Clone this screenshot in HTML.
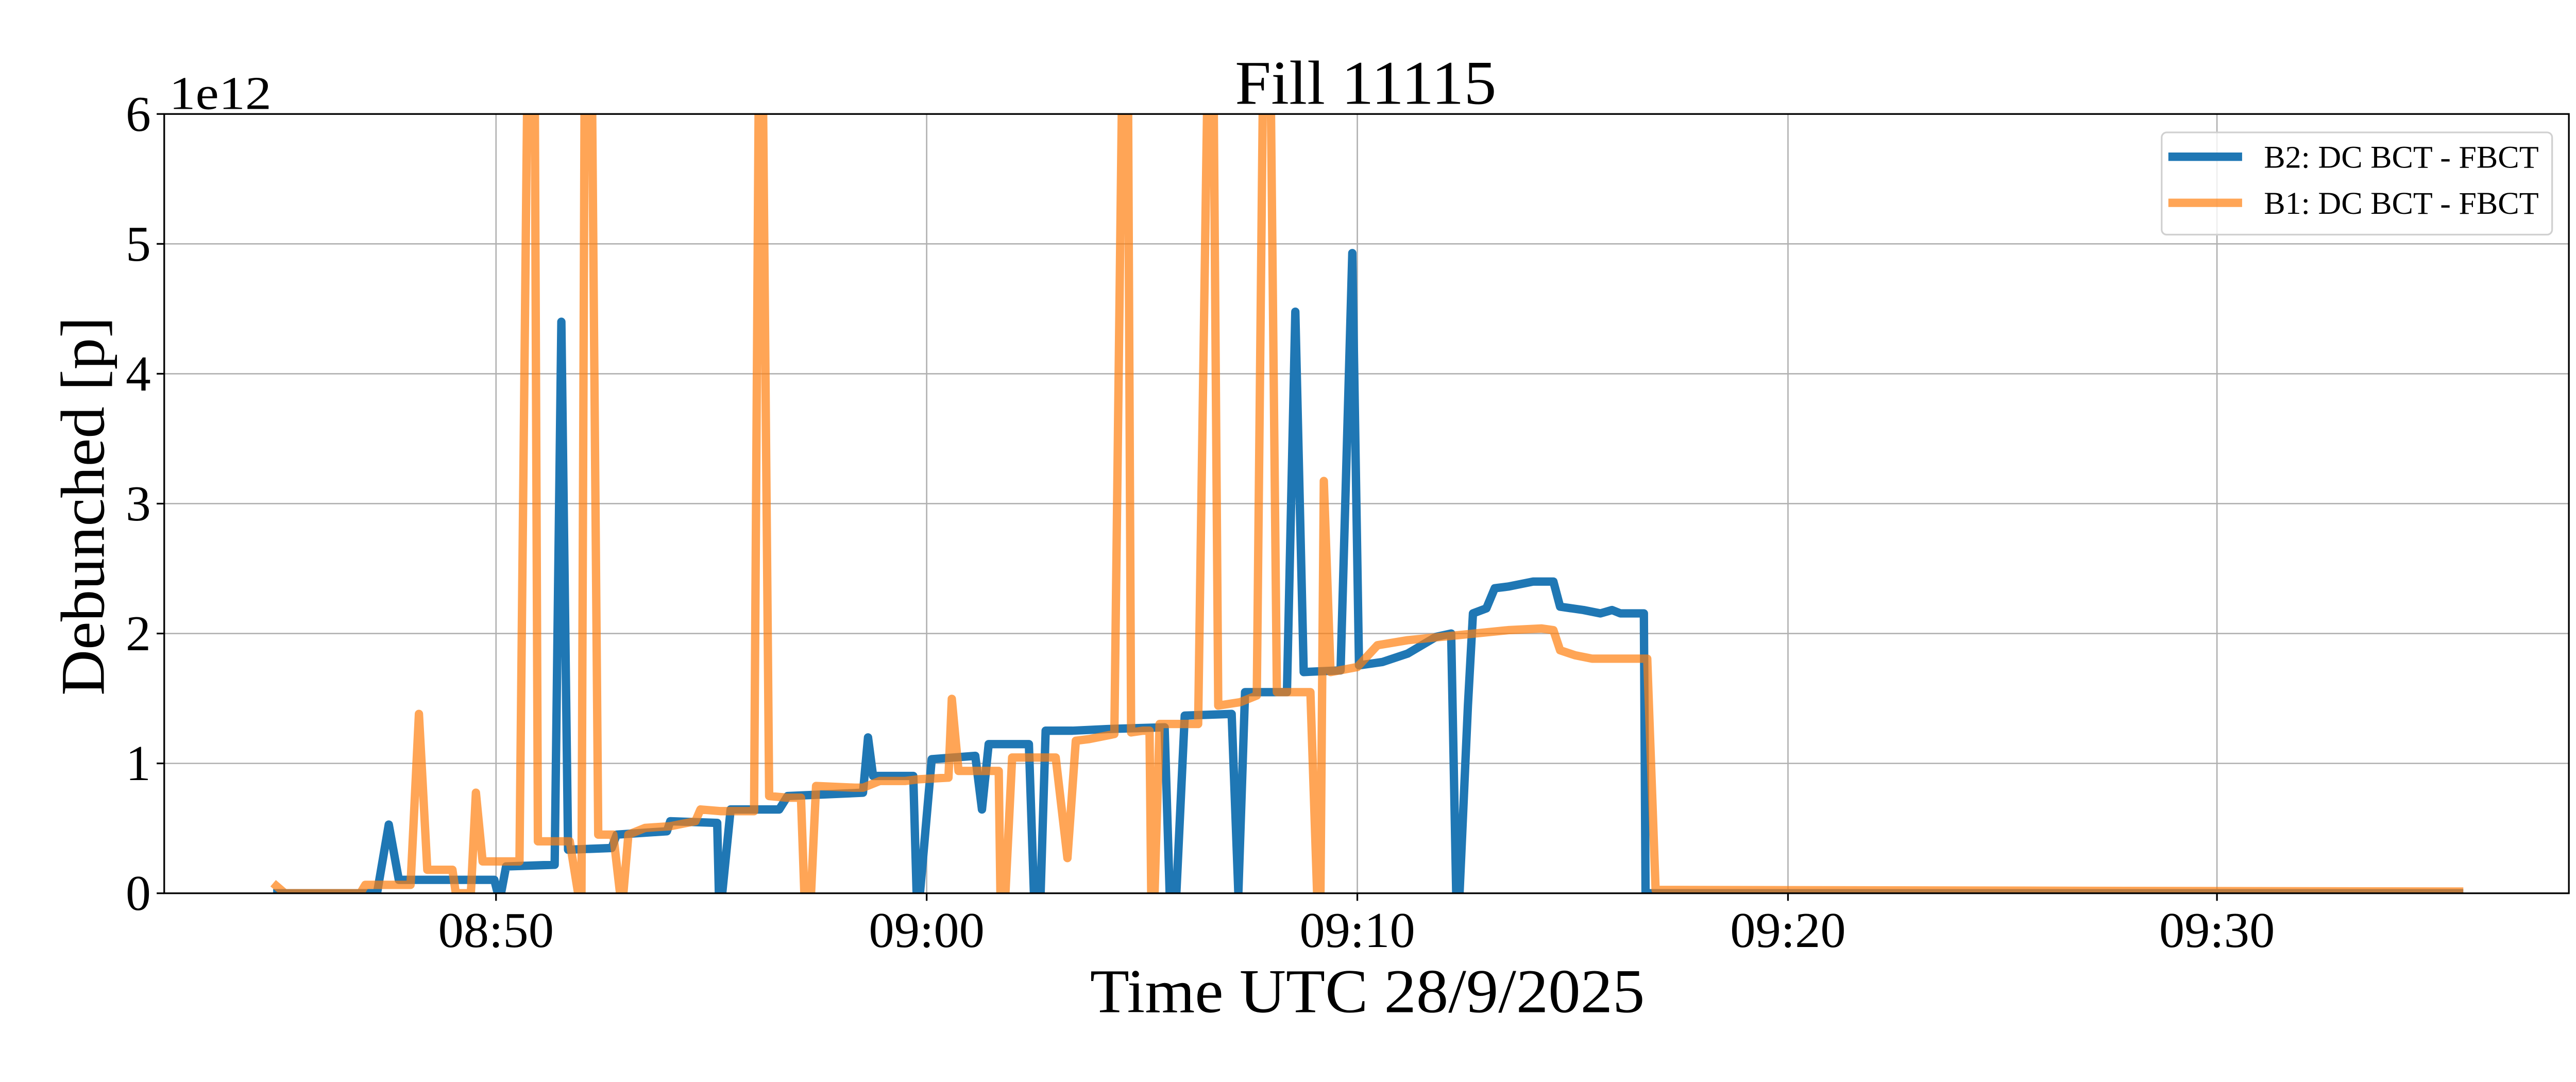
<!DOCTYPE html>
<html><head><meta charset="utf-8"><style>html,body{margin:0;padding:0;background:#fff}svg{display:block}</style></head>
<body>
<svg width="5100" height="2100" viewBox="0 0 1568 645.6" xmlns="http://www.w3.org/2000/svg" font-family="'Liberation Serif', serif">
<defs><clipPath id="c"><rect x="98" y="68" width="1435" height="465"/></clipPath></defs>
<rect width="1568" height="645.6" fill="#fff"/>
<g stroke="#b0b0b0" stroke-width="0.8">
<line x1="296" y1="68" x2="296" y2="533"/><line x1="553" y1="68" x2="553" y2="533"/><line x1="810" y1="68" x2="810" y2="533"/><line x1="1067" y1="68" x2="1067" y2="533"/><line x1="1323" y1="68" x2="1323" y2="533"/>
<line x1="98" y1="455.5" x2="1533" y2="455.5"/><line x1="98" y1="378" x2="1533" y2="378"/><line x1="98" y1="300.5" x2="1533" y2="300.5"/><line x1="98" y1="223" x2="1533" y2="223"/><line x1="98" y1="145.5" x2="1533" y2="145.5"/>
</g>
<g clip-path="url(#c)" fill="none" stroke-linejoin="round" stroke-width="5">
<polyline stroke="#1f77b4" points="163,533 225,533 232,492 238,525 295,525 297,533 299,533 302,517 331,516 335,192 339,507 365,506 368,498 398,496 400,490 428,491 429,533 431,533 436,483 465,483 470,475 515,473 518,440 521,463 545,463 547,533 549,533 556,453 582,451 586,483 590,444 614,444 617,533 621,533 624,436 640,436 661,435 695,434 698,533 702,533 707,427 735,426 739,533 743,413 768,413 773,186 778,401 800,400 807,151 811,397 825,395 840,390 857,380 866,378 869,533 871,533 876,421 879,366 887,363 892,351 900,350 915,347 927,347 931,362 945,364 955,366 962,364 967,366 981,366 982,533 1470,533"/>
<polyline stroke="#ff7f0e" stroke-opacity="0.7" points="163,527 170,533 215,533 218,528 245,528 250,426 255,519 270,519 272,533 281,533 284,473 288,514 310,514 315,20 319,20 321,502 340,502 345,533 347,533 349,20 353,20 357,498 366,498 370,533 372,533 375,498 385,494 400,493 415,490 418,483 430,484 450,484 453,20 455,20 459,475 470,476 478,476 480,533 484,533 487,469 510,470 515,470 525,466 540,466 548,465 566,464 568,417 572,460 590,460 596,460 597,533 600,533 604,452 630,452 637,512 642,442 650,441 665,438 670,20 673,20 675,437 682,436 686,436 687,533 689,533 692,432 715,432 721,20 724,20 727,421 740,419 750,415 754,20 758,20 762,413 782,413 786,533 788,533 790,287 794,401 810,398 822,385 840,382 860,380 880,378 900,376 920,375 927,376 931,388 940,391 950,393 965,393 983,393 988,531 1470,532"/>
</g>
<rect x="98" y="68" width="1435" height="465" fill="none" stroke="#000" stroke-width="1"/>
<g stroke="#000" stroke-width="1">
<line x1="296" y1="533" x2="296" y2="537.5"/><line x1="553" y1="533" x2="553" y2="537.5"/><line x1="810" y1="533" x2="810" y2="537.5"/><line x1="1067" y1="533" x2="1067" y2="537.5"/><line x1="1323" y1="533" x2="1323" y2="537.5"/>
<line x1="93.5" y1="533" x2="98" y2="533"/><line x1="93.5" y1="455.5" x2="98" y2="455.5"/><line x1="93.5" y1="378" x2="98" y2="378"/><line x1="93.5" y1="300.5" x2="98" y2="300.5"/><line x1="93.5" y1="223" x2="98" y2="223"/><line x1="93.5" y1="145.5" x2="98" y2="145.5"/><line x1="93.5" y1="68" x2="98" y2="68"/>
</g>
<g font-size="30" fill="#000" text-anchor="middle">
<text x="296" y="565" textLength="69" lengthAdjust="spacingAndGlyphs">08:50</text>
<text x="553" y="565" textLength="69" lengthAdjust="spacingAndGlyphs">09:00</text>
<text x="810" y="565" textLength="69" lengthAdjust="spacingAndGlyphs">09:10</text>
<text x="1067" y="565" textLength="69" lengthAdjust="spacingAndGlyphs">09:20</text>
<text x="1323" y="565" textLength="69" lengthAdjust="spacingAndGlyphs">09:30</text>
</g>
<g font-size="30" fill="#000" text-anchor="end">
<text x="90" y="543">0</text><text x="90" y="465.5">1</text><text x="90" y="388">2</text><text x="90" y="310.5">3</text><text x="90" y="233">4</text><text x="90" y="155.5">5</text><text x="90" y="78">6</text>
</g>
<text x="101" y="65" font-size="28" textLength="61" lengthAdjust="spacingAndGlyphs">1e12</text>
<text x="815" y="62" font-size="37" text-anchor="middle" textLength="156" lengthAdjust="spacingAndGlyphs">Fill 11115</text>
<text x="816" y="604" font-size="37" text-anchor="middle" textLength="331" lengthAdjust="spacingAndGlyphs">Time UTC 28/9/2025</text>
<text transform="translate(62,302) rotate(-90)" font-size="37" text-anchor="middle" textLength="226" lengthAdjust="spacingAndGlyphs">Debunched [p]</text>
<rect x="1290" y="79" width="233" height="61" rx="3" fill="#fff" fill-opacity="0.8" stroke="#d0d0d0" stroke-width="1"/>
<line x1="1294" y1="93.5" x2="1338" y2="93.5" stroke="#1f77b4" stroke-width="5"/>
<line x1="1294" y1="121" x2="1338" y2="121" stroke="#ff7f0e" stroke-opacity="0.7" stroke-width="5"/>
<text x="1351" y="100" font-size="19" textLength="164" lengthAdjust="spacingAndGlyphs">B2: DC BCT - FBCT</text>
<text x="1351" y="127.5" font-size="19" textLength="164" lengthAdjust="spacingAndGlyphs">B1: DC BCT - FBCT</text>
</svg>
</body></html>
